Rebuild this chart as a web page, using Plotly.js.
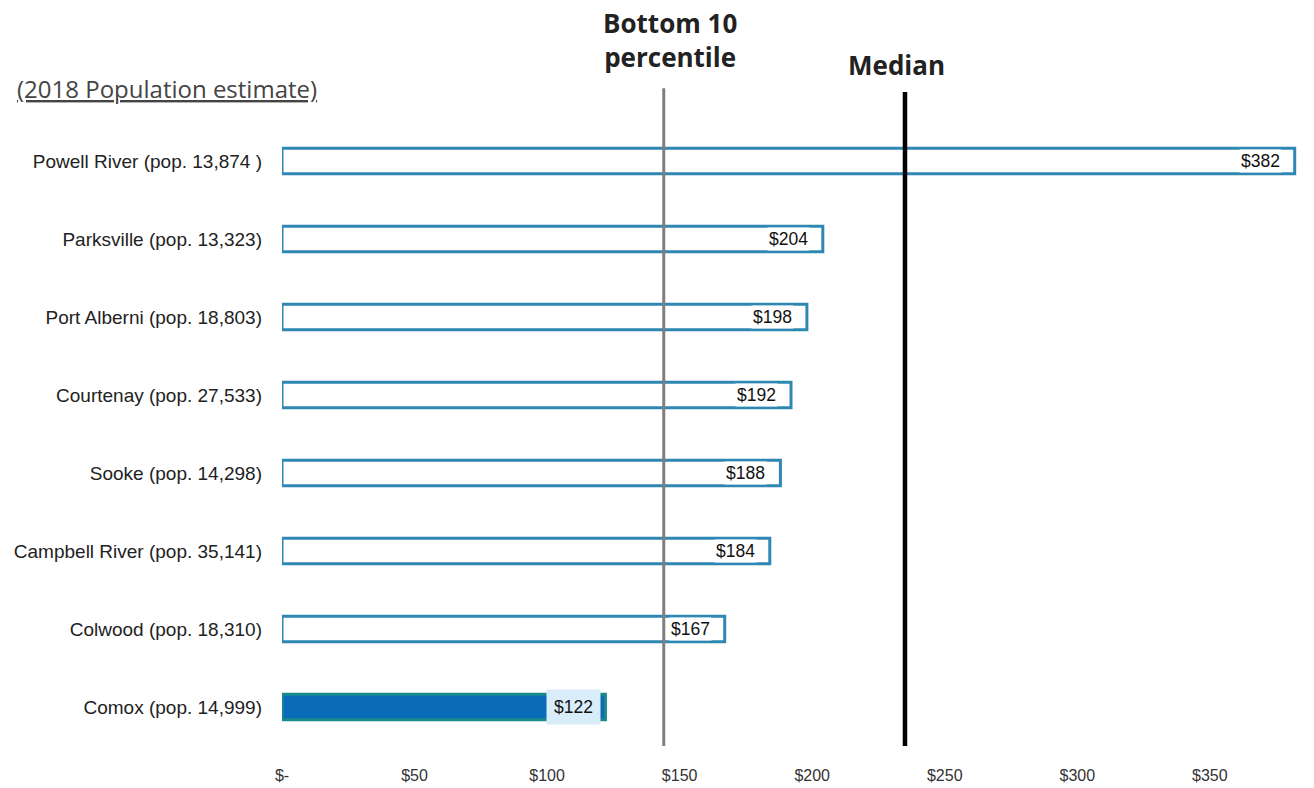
<!DOCTYPE html>
<html>
<head>
<meta charset="utf-8">
<script src="https://cdn.plot.ly/plotly-3.0.1.min.js"></script>
<style>html,body{margin:0;padding:0;background:#fff;}#chart{width:1314px;height:788px;}</style>
</head>
<body>
<div id="chart"></div>
<script>
const categories = [
  "Powell River (pop. 13,874 )",
  "Parksville (pop. 13,323)",
  "Port Alberni (pop. 18,803)",
  "Courtenay (pop. 27,533)",
  "Sooke (pop. 14,298)",
  "Campbell River (pop. 35,141)",
  "Colwood (pop. 18,310)",
  "Comox (pop. 14,999)"
];
const values = [382, 204, 198, 192, 188, 184, 167, 122];
const valueLabels = ["$382", "$204", "$198", "$192", "$188", "$184", "$167", "$122"];
const highlighted = [false, false, false, false, false, false, false, true];
const tickVals = [0, 50, 100, 150, 200, 250, 300, 350];
const tickText = ["$-", "$50", "$100", "$150", "$200", "$250", "$300", "$350"];
const bottom10 = 144;
const median = 235;

const outline = "#2f87b3";
const fillBlue = "#0a6cb8";

const trace = {
  type: "bar",
  orientation: "h",
  y: categories,
  x: values,
  width: 0.33,
  marker: {
    color: highlighted.map(h => h ? fillBlue : "#ffffff"),
    line: {color: highlighted.map(h => h ? "#1a8a8a" : outline), width: 3}
  },
  hoverinfo: "none"
};

const annotations = values.map((v, i) => ({
  x: v, y: categories[i], xref: "x", yref: "y",
  text: valueLabels[i], showarrow: false,
  xanchor: "right", xshift: highlighted[i] ? -4 : -13,
  font: {family: "Liberation Sans, Arial, sans-serif", size: 17.5, color: "#111"},
  bgcolor: highlighted[i] ? "#d9ecfa" : "#ffffff",
  borderpad: highlighted[i] ? 7 : 1
}));

annotations.push({
  xref: "paper", yref: "paper", x: -0.262, y: 1.054, xanchor: "left", yanchor: "middle",
  text: "<u>(2018 Population estimate)</u>", showarrow: false,
  font: {family: "Open Sans, Liberation Sans, sans-serif", size: 24, color: "#444"}
});
annotations.push({
  x: bottom10, xref: "x", yref: "paper", y: 1.131, yanchor: "middle", xshift: 6,
  text: "<b>Bottom 10<br>percentile</b>", showarrow: false,
  font: {family: "Open Sans, Noto Sans, sans-serif", size: 26, color: "#222"}
});
annotations.push({
  x: median, xref: "x", yref: "paper", y: 1.091, yanchor: "middle", xshift: -8,
  text: "<b>Median</b>", showarrow: false,
  font: {family: "Open Sans, Noto Sans, sans-serif", size: 26, color: "#222"}
});

const layout = {
  width: 1314, height: 788,
  margin: {l: 282, r: 14, t: 122, b: 42},
  paper_bgcolor: "#ffffff", plot_bgcolor: "#ffffff",
  showlegend: false,
  bargap: 0.5,
  xaxis: {
    range: [0, 384],
    tickvals: tickVals, ticktext: tickText,
    showgrid: false, zeroline: false, showline: false,
    ticks: "", ticklabelstandoff: 18,
    tickfont: {family: "Liberation Sans, Arial, sans-serif", size: 16, color: "#333"}
  },
  yaxis: {
    type: "category",
    autorange: "reversed",
    showgrid: false, zeroline: false, showline: false,
    ticks: "", ticklabelstandoff: 19,
    tickfont: {family: "Liberation Sans, Arial, sans-serif", size: 19, color: "#222"}
  },
  shapes: [
    {type: "line", xref: "x", yref: "paper", x0: bottom10, x1: bottom10, y0: 0, y1: 1.054,
     line: {color: "#7f7f7f", width: 3}, layer: "above"},
    {type: "line", xref: "x", yref: "paper", x0: median, x1: median, y0: 0, y1: 1.048,
     line: {color: "#000000", width: 4.5}, layer: "above"}
  ],
  annotations: annotations
};

Plotly.newPlot("chart", [trace], layout, {displayModeBar: false, staticPlot: true});
</script>
</body>
</html>
